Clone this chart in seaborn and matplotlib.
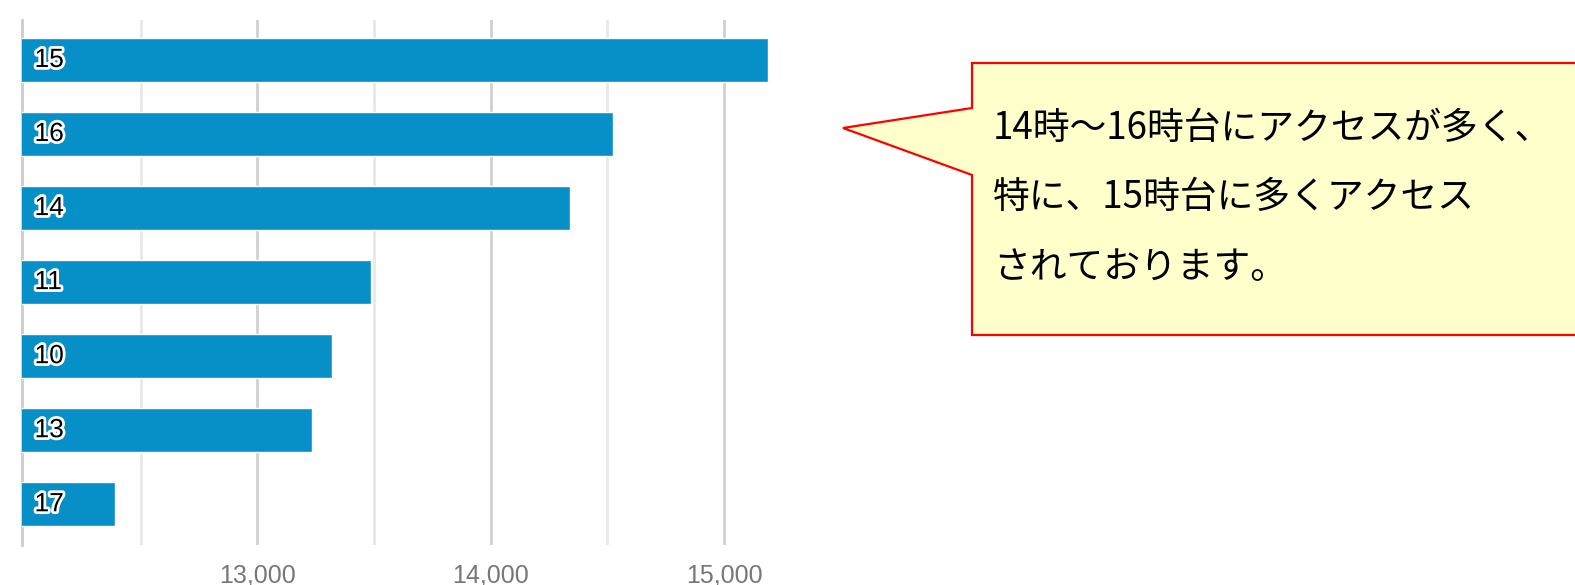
import matplotlib
matplotlib.use("Agg")
import matplotlib.pyplot as plt
import matplotlib.patheffects as pe
from matplotlib.patches import Polygon
from matplotlib.ticker import FixedLocator, FuncFormatter
import seaborn as sns
import pandas as pd

# hour of day and access counts
hours = ["15", "16", "14", "11", "10", "13", "17"]
access = [15189, 14525, 14340, 13487, 13320, 13234, 12390]

major_ticks = [13000, 14000, 15000]
minor_ticks = [12500, 13500, 14500]

callout_lines = ["14時～16時台にアクセスが多く、",
                 "特に、15時台に多くアクセス",
                 "されております。"]

df = pd.DataFrame({"hour": hours, "access": access})

sns.set_style("white")
plt.rcParams['font.family'] = ['Liberation Sans', 'DejaVu Sans']

W, H = 1575, 585
fig = plt.figure(figsize=(W / 100, H / 100), dpi=100)
ax = fig.add_axes([22 / W, 40 / H, 778 / W, 525 / H])

sns.barplot(data=df, x="access", y="hour", order=hours, orient="h",
            color="#078FC8", saturation=1, width=0.6, ax=ax, zorder=3)

ax.set_xlim(11991, 15326)
ax.set_ylim(6.55, -0.54)

ax.xaxis.set_major_locator(FixedLocator(major_ticks))
ax.xaxis.set_minor_locator(FixedLocator(minor_ticks))
ax.xaxis.set_major_formatter(FuncFormatter(lambda v, p: f"{int(v):,}"))
ax.grid(axis="x", which="major", color="#d0d0d0", linewidth=2, zorder=0)
ax.grid(axis="x", which="minor", color="#e8e8e8", linewidth=2, zorder=0)
ax.set_axisbelow(True)
ax.tick_params(axis="x", which="both", length=0, pad=13, labelsize=18,
               labelcolor="#777777")
ax.tick_params(axis="y", length=0, labelleft=False)
ax.set_xlabel("")
ax.set_ylabel("")
for s in ["top", "right", "bottom"]:
    ax.spines[s].set_visible(False)
ax.spines["left"].set_color("#cccccc")
ax.spines["left"].set_linewidth(2)

# hour labels inside the bars
x0 = ax.get_xlim()[0]
for i, h in enumerate(hours):
    ax.annotate(h, xy=(x0, i), xytext=(9, 0), textcoords="offset points",
                va="center", ha="left", fontsize=19, color="black", zorder=5,
                path_effects=[pe.withStroke(linewidth=4, foreground="white")])

# speech-bubble callout
pts = [(972, 63), (1580, 63), (1580, 335), (972, 335),
       (972, 175), (843, 128), (972, 108)]
pts = [(x / W, 1 - y / H) for x, y in pts]
fig.patches.append(Polygon(pts, closed=True, transform=fig.transFigure,
                           facecolor="#FFFFCC", edgecolor="#FF0000",
                           linewidth=1.6, zorder=1))

for line, y in zip(callout_lines, [128, 197, 268]):
    fig.text(993 / W, 1 - y / H, line, fontsize=26.5, color="black",
             ha="left", va="center",
             family=["Noto Sans CJK JP", "DejaVu Sans"])

fig.savefig("out.png", dpi=100)
